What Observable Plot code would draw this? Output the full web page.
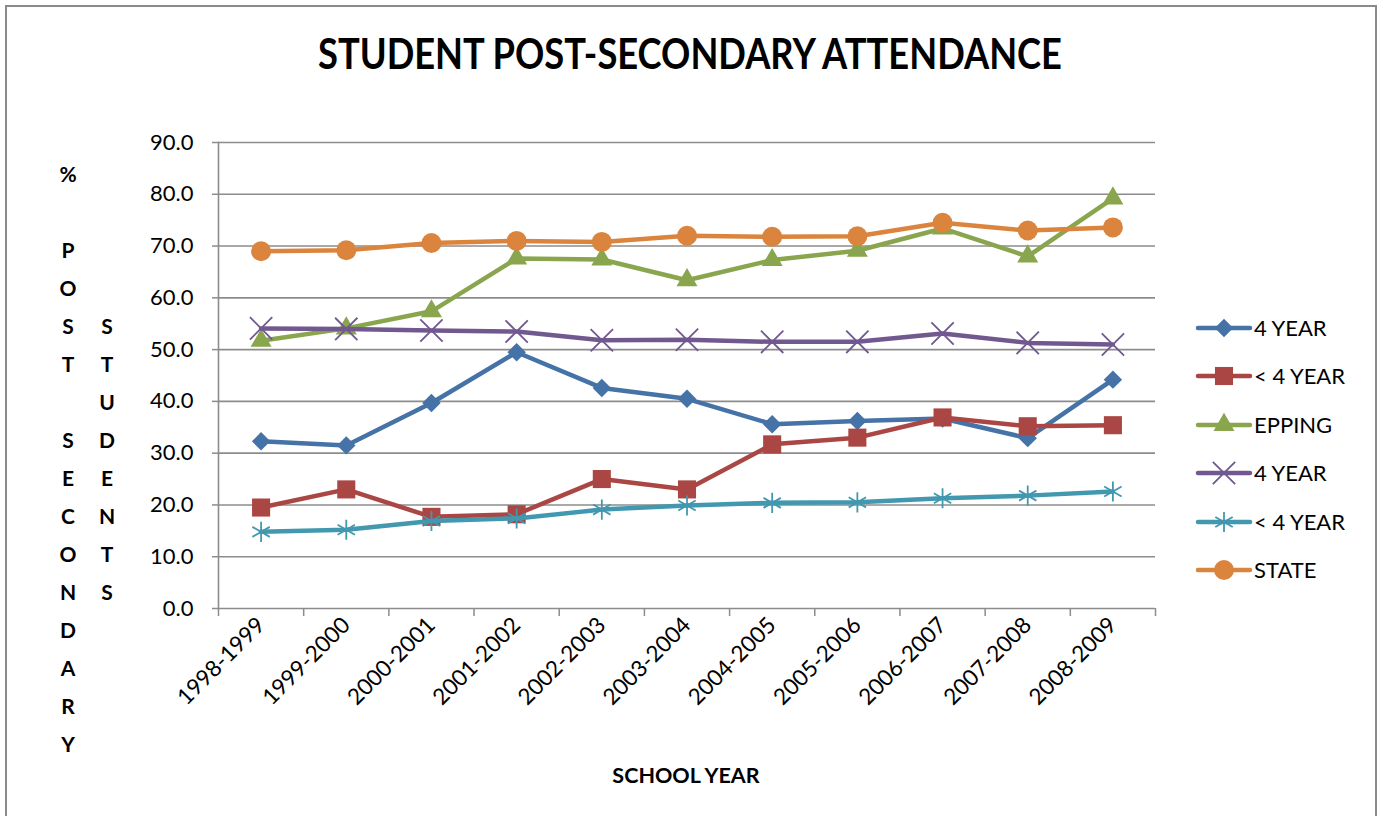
<!DOCTYPE html>
<html><head><meta charset="utf-8">
<script src="https://cdn.jsdelivr.net/npm/d3@7"></script>
<script src="https://cdn.jsdelivr.net/npm/@observablehq/plot@0.6"></script>
<style>
html,body{margin:0;padding:0;background:#fff;}
#wrap{position:relative;width:1380px;height:816px;overflow:hidden;font-family:Lato,"Open Sans",sans-serif;color:#000;}
.abs{position:absolute;}
</style></head><body><div id="wrap"></div>
<script>
// ---- data ----
const years = ["1998-1999","1999-2000","2000-2001","2001-2002","2002-2003","2003-2004","2004-2005","2005-2006","2006-2007","2007-2008","2008-2009"];
const eppingFourYear = [32.3, 31.5, 39.7, 49.5, 42.6, 40.5, 35.6, 36.2, 36.7, 32.9, 44.2];
const eppingLessFour = [19.5, 23.0, 17.7, 18.2, 25.0, 23.0, 31.7, 33.0, 36.9, 35.2, 35.4];
const eppingTotal    = [51.7, 54.1, 57.4, 67.6, 67.4, 63.4, 67.3, 69.1, 73.4, 68.0, 79.2];
const stateFourYear  = [54.1, 54.0, 53.7, 53.5, 51.8, 51.9, 51.5, 51.5, 53.1, 51.3, 51.0];
const stateLessFour  = [14.8, 15.2, 16.9, 17.4, 19.1, 19.9, 20.4, 20.5, 21.3, 21.8, 22.6];
const stateTotal     = [69.0, 69.2, 70.6, 71.0, 70.8, 72.0, 71.8, 71.9, 74.5, 73.0, 73.6];
const seriesNames = ["4 YEAR","< 4 YEAR","EPPING","4 YEAR","< 4 YEAR","STATE"];
const seriesValues = [eppingFourYear, eppingLessFour, eppingTotal, stateFourYear, stateLessFour, stateTotal];
const seriesColors = ["#4572A7","#AA4643","#89A54E","#71588F","#4198AF","#DB843D"];
const seriesSymbols = ["diamond2","square","triangle","times","asterisk","circle"];
const seriesFilled = [true, true, true, false, false, true];
const seriesRadius = [8.3, 10.2, 7.8, 10.2, 9.5, 10];
const yTicks = [0,10,20,30,40,50,60,70,80,90];
const titleText = "STUDENT POST-SECONDARY ATTENDANCE";
const xTitle = "SCHOOL YEAR";
const yTitleCol1 = ["%","","P","O","S","T","","S","E","C","O","N","D","A","R","Y"];
const yTitleCol2 = ["","","","","S","T","U","D","E","N","T","S"];

const rows = [];
seriesValues.forEach((vals, s) => vals.forEach((v, i) => rows.push({s, i, v})));

const wrap = document.getElementById("wrap");
const gridColor = "#8c8c8c";

// border
const border = document.createElement("div");
border.className = "abs";
Object.assign(border.style, {left:"5px", top:"5px", width:"1372px", height:"840px", border:"2px solid #8a8a8a", boxSizing:"border-box"});
wrap.appendChild(border);

const marks = [
  Plot.ruleY(yTicks, {stroke: gridColor, strokeWidth: 1.6}),
  Plot.frame({anchor: "left", stroke: gridColor, strokeWidth: 1.6}),
  Plot.axisY({ticks: yTicks, tickSize: 6, tickPadding: 19, tickFormat: d => d.toFixed(1), label: null, fontSize: 22, stroke: gridColor, strokeWidth: 1.5, fill: "#000"}),
  Plot.axisX({ticks: d3.range(years.length + 1).map(i => i - 0.5), tickSize: 8, tickFormat: () => "", label: null, stroke: gridColor, strokeWidth: 1.5}),
  Plot.axisX({ticks: d3.range(years.length), tickFormat: i => years[i], tickSize: 0, tickPadding: 13, tickRotate: -45, fontSize: 22.5, label: null, fill: "#000"})
];
seriesValues.forEach((_, s) => {
  const d = rows.filter(r => r.s === s);
  marks.push(Plot.line(d, {x: "i", y: "v", stroke: seriesColors[s], strokeWidth: 4.5, strokeLinejoin: "round", strokeLinecap: "round"}));
  marks.push(Plot.dot(d, {x: "i", y: "v", symbol: seriesSymbols[s], r: seriesRadius[s],
    fill: seriesFilled[s] ? seriesColors[s] : "none",
    stroke: seriesFilled[s] ? "none" : seriesColors[s], strokeWidth: 1.8}));
});

const chart = Plot.plot({
  width: 1380, height: 816,
  marginLeft: 218, marginRight: 225, marginTop: 142, marginBottom: 208,
  x: {type: "linear", domain: [-0.5, years.length - 0.5]},
  y: {domain: [0, 90]},
  style: {fontFamily: "Lato, 'Open Sans', sans-serif", color: "#000", background: "transparent"},
  marks
});
chart.style.position = "absolute";
chart.style.left = "0px";
chart.style.top = "0px";
wrap.appendChild(chart);

// title
const ns = "http://www.w3.org/2000/svg";
const tsvg = document.createElementNS(ns, "svg");
tsvg.setAttribute("width", 1380); tsvg.setAttribute("height", 100);
tsvg.style.position = "absolute"; tsvg.style.left = "0px"; tsvg.style.top = "0px";
const tt = document.createElementNS(ns, "text");
tt.setAttribute("x", 690); tt.setAttribute("y", 69);
tt.setAttribute("text-anchor", "middle");
tt.setAttribute("font-family", "Lato, 'Open Sans', sans-serif");
tt.setAttribute("font-weight", "bold");
tt.setAttribute("font-size", 42);
tt.setAttribute("textLength", 744);
tt.setAttribute("lengthAdjust", "spacingAndGlyphs");
tt.textContent = titleText;
tsvg.appendChild(tt);
wrap.appendChild(tsvg);

// y title letters
function letterCol(arr, cx) {
  arr.forEach((ch, k) => {
    if (!ch) return;
    const el = document.createElement("div");
    el.className = "abs";
    el.textContent = ch;
    Object.assign(el.style, {left: cx + "px", top: (173 + k * 38) + "px", transform: "translate(-50%,-50%)", fontWeight: "bold", fontSize: "21px", lineHeight: "1"});
    wrap.appendChild(el);
  });
}
letterCol(yTitleCol1, 68);
letterCol(yTitleCol2, 107);

// x title
const xt = document.createElement("div");
xt.className = "abs";
xt.textContent = xTitle;
Object.assign(xt.style, {left: "686px", top: "776px", transform: "translate(-50%,-50%)", fontWeight: "bold", fontSize: "21.5px", lineHeight: "1", whiteSpace: "nowrap"});
wrap.appendChild(xt);

// legend
const symMap = {diamond2: d3.symbolDiamond2, square: d3.symbolSquare, triangle: d3.symbolTriangle, times: d3.symbolTimes, asterisk: d3.symbolAsterisk, circle: d3.symbolCircle};
seriesNames.forEach((name, s) => {
  const cy = 328 + s * 48.4;
  const svg = document.createElementNS(ns, "svg");
  svg.setAttribute("width", 60); svg.setAttribute("height", 30);
  svg.style.position = "absolute"; svg.style.left = "1194px"; svg.style.top = (cy - 15) + "px";
  const ln = document.createElementNS(ns, "line");
  ln.setAttribute("x1", 4); ln.setAttribute("x2", 56); ln.setAttribute("y1", 15); ln.setAttribute("y2", 15);
  ln.setAttribute("stroke", seriesColors[s]); ln.setAttribute("stroke-width", 4.5); ln.setAttribute("stroke-linecap", "round");
  svg.appendChild(ln);
  const p = document.createElementNS(ns, "path");
  const r = seriesRadius[s];
  p.setAttribute("d", d3.symbol(symMap[seriesSymbols[s]], Math.PI * r * r)());
  p.setAttribute("transform", "translate(30,15)");
  p.setAttribute("fill", seriesFilled[s] ? seriesColors[s] : "none");
  p.setAttribute("stroke", seriesFilled[s] ? "none" : seriesColors[s]);
  p.setAttribute("stroke-width", 1.8);
  svg.appendChild(p);
  wrap.appendChild(svg);
  const tx = document.createElement("div");
  tx.className = "abs";
  tx.textContent = name;
  Object.assign(tx.style, {left: "1254px", top: cy + "px", transform: "translateY(-50%)", fontSize: "22px", lineHeight: "1", whiteSpace: "nowrap"});
  wrap.appendChild(tx);
});
</script></body></html>
